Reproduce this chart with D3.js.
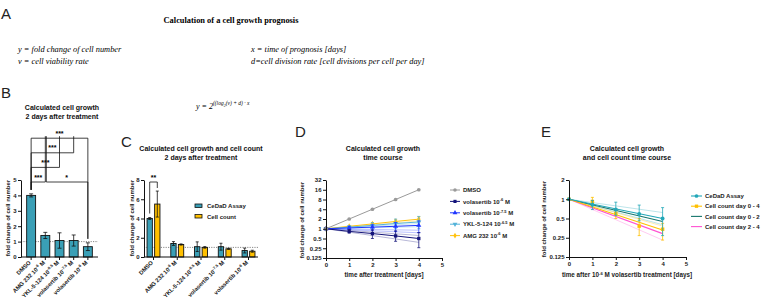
<!DOCTYPE html>
<html>
<head>
<meta charset="utf-8">
<script src="https://cdn.jsdelivr.net/npm/d3@7"></script>
<style>
  body { margin: 0; background: #fff; }
  text { font-family: "Liberation Sans", Arial, sans-serif; }
  .serif { font-family: "Liberation Serif", "DejaVu Serif", serif; }
</style>
</head>
<body>
<div id="chart"></div>
<script>
// ---------- data
const treatments = ['DMSO', 'AMG 232', 'YKL-5-124', 'volasertib', 'volasertib'];
const treatmentExp = ['', '-6', '-6.5', '-7.5', '-6'];

// B / C: 2 days after treatment
const growth2d = [4.0, 1.4, 1.07, 1.07, 0.67];
const growth2dErr = [0.1, 0.2, 0.5, 0.36, 0.25];
const count2d = [5.5, 1.3, 1.0, 0.85, 0.6];
const count2dErr = [1.35, 0.06, 0.08, 0.06, 0.1];
const sigB = [
  {a: 0, b: 4, level: 3, label: '***'},
  {a: 0, b: 3, level: 2, label: '***'},
  {a: 0, b: 2, level: 1, label: '***'},
  {a: 0, b: 1, level: 0, label: '***'},
  {a: 1, b: 4, level: 0, label: '*'}
];

// D: time course
const days = [0, 1, 2, 3, 4];
const dNames = ['DMSO', 'volasertib', 'volasertib', 'YKL-5-124', 'AMG 232'];
const dExp = ['', '-6', '-7.5', '-6.5', '-6'];
const dDMSO = [1, 2, 4, 8, 16];
const dVola6 = [1, 0.83, 0.71, 0.6, 0.5];
const dVola6Lo = [1, 0.73, 0.5, 0.41, 0.26];
const dVola6Hi = [1, 0.95, 0.92, 0.86, 0.76];
const dVola75 = [1, 1.06, 1.12, 1.19, 1.27];
const dVola75Lo = [1, 0.96, 0.9, 0.82, 0.76];
const dVola75Hi = [1, 1.17, 1.32, 1.55, 1.75];
const dYKL = [1, 1.12, 1.27, 1.45, 1.62];
const dYKLLo = [1, 1.0, 1.0, 1.0, 1.0];
const dYKLHi = [1, 1.25, 1.55, 2.0, 2.4];
const dAMG = [1, 1.19, 1.41, 1.68, 1.98];
const dAMGLo = [1, 1.12, 1.28, 1.45, 1.6];
const dAMGHi = [1, 1.26, 1.55, 1.9, 2.35];
// faint prognosis lines (value at day 4)
const dFaint = [0.38, 0.62, 0.75, 0.9, 1.15, 1.45, 1.75];
const dFaintKey = [1, 1, 2, 2, 3, 3, 4];

// E: volasertib 10^-6 M
const eNames = ['CeDaD Assay', 'Cell count day 0 - 4', 'Cell count day 0 - 2', 'Cell count day 2 - 4'];
const eCedad = [1, 0.82, 0.69, 0.59, 0.5];
const eCedadLo = [1, 0.69, 0.56, 0.46, 0.27];
const eCedadHi = [1, 0.96, 0.9, 0.81, 0.74];
const eCount = [1, 0.92, 0.6, 0.38, 0.34];
const eCountLo = [1, 0.8, 0.5, 0.27, 0.23];
const eCountHi = [1, 1.07, 0.7, 0.5, 0.42];
const eFitEnd = [0.5, 0.33, 0.45, 0.29]; // fitted value at day 4
const eFaint = [0.62, 0.4, 0.38, 0.23];
const eFaintKey = [0, 0, 1, 3];

// ---------- chart
const svg = d3.select('#chart').append('svg')
  .attr('width', 764).attr('height', 301)
  .style('background', '#fff');

const teal = '#3a9fb6', gold = '#ffc000';
const dColors = ['#9a9a9a', '#14147a', '#1f35ff', '#53b3d9', '#ffc20e'];
const eColors = ['#22a7b8', '#ffc000', '#16756c', '#ff52d2'];

function label(sel, name, exp, supSize) {
  sel.text(null);
  if (!exp) { sel.text(name); return; }
  sel.append('tspan').text(name + ' 10');
  sel.append('tspan').attr('font-size', supSize).attr('dy', -2.4).text(exp);
  sel.append('tspan').attr('dy', 2.4).text(' M');
}

function styleAxis(g) {
  g.selectAll('path, line').attr('stroke', '#111').attr('stroke-width', 1);
  g.selectAll('text').attr('font-size', 6).attr('font-weight', 'bold').attr('fill', '#222');
}

function panelLetter(x, y, t) {
  svg.append('text').attr('x', x).attr('y', y).attr('font-size', 15)
    .attr('fill', '#222').text(t);
}

function yTitle(x, y) {
  svg.append('text').attr('transform', `translate(${x},${y}) rotate(-90)`)
    .attr('text-anchor', 'middle').attr('font-size', 6).attr('font-weight', 'bold')
    .attr('fill', '#222').text('fold change of cell number');
}

function title(x, y, lines) {
  lines.forEach((l, i) => svg.append('text').attr('x', x).attr('y', y + i * 8.5)
    .attr('text-anchor', 'middle').attr('font-size', 7).attr('font-weight', 'bold')
    .attr('fill', '#111').text(l));
}

function errBar(g, x, y0, y1, w, color) {
  g.append('line').attr('x1', x).attr('x2', x).attr('y1', y0).attr('y2', y1)
    .attr('stroke', color).attr('stroke-width', 0.8);
  [y0, y1].forEach(y => g.append('line').attr('x1', x - w / 2).attr('x2', x + w / 2)
    .attr('y1', y).attr('y2', y).attr('stroke', color).attr('stroke-width', 0.8));
}

// ---------- Panel A
panelLetter(1, 19, 'A');
svg.append('text').attr('class', 'serif').attr('x', 231).attr('y', 23)
  .attr('text-anchor', 'middle').attr('font-size', 8.4).attr('font-weight', 'bold')
  .text('Calculation of a cell growth prognosis');
[['y = fold change of cell number', 18, 52], ['v = cell viability rate', 18, 64],
 ['x = time of prognosis [days]', 251, 52], ['d=cell division rate [cell divisions per cell per day]', 251, 64]]
  .forEach(([t, x, y]) => svg.append('text').attr('class', 'serif').attr('x', x).attr('y', y)
    .attr('font-size', 8.4).attr('font-style', 'italic').text(t));
const formula = svg.append('text').attr('class', 'serif').attr('x', 196).attr('y', 109)
  .attr('font-size', 8).attr('font-style', 'italic');
formula.append('tspan').text('y = 2');
formula.append('tspan').attr('font-size', 5.5).attr('dy', -4).text('((log');
formula.append('tspan').attr('font-size', 4).attr('dy', 1.5).text('2');
formula.append('tspan').attr('font-size', 5.5).attr('dy', -1.5).text('(v) + d) \u00b7 x');

// ---------- Panel B
panelLetter(1, 98, 'B');
title(62, 110, ['Calculated cell growth', '2 days after treatment']);
yTitle(10, 218);
const gB = svg.append('g');
const xB = d3.scaleBand().domain(d3.range(treatments.length)).range([21, 98])
  .paddingInner(0.37).paddingOuter(0.4);
const yB = d3.scaleLinear().domain([0, 5]).range([257, 180]);

gB.append('line').attr('x1', 21).attr('x2', 98).attr('y1', yB(1)).attr('y2', yB(1))
  .attr('stroke', '#888').attr('stroke-dasharray', '1.2,1.2');
gB.selectAll('rect').data(growth2d).join('rect')
  .attr('x', (d, i) => xB(i)).attr('y', d => yB(d))
  .attr('width', xB.bandwidth()).attr('height', d => yB(0) - yB(d))
  .attr('fill', teal).attr('stroke', '#111').attr('stroke-width', 0.9);
growth2d.forEach((d, i) => errBar(gB, xB(i) + xB.bandwidth() / 2,
  yB(d - growth2dErr[i]), yB(d + growth2dErr[i]), 4, '#111'));

gB.append('g').attr('transform', 'translate(21,0)')
  .call(d3.axisLeft(yB).ticks(5).tickSize(3).tickSizeOuter(0).tickPadding(1.5))
  .call(styleAxis);
const axB = gB.append('g').attr('transform', 'translate(0,257)')
  .call(d3.axisBottom(xB).tickSize(3).tickSizeOuter(0).tickFormat(''))
  .call(styleAxis);
axB.select('.domain').attr('d', 'M21,0H98');
axB.selectAll('.tick').append('text')
  .attr('transform', 'translate(0,6) rotate(-45)').attr('text-anchor', 'end')
  .attr('font-size', 5.8).attr('font-weight', 'bold').attr('fill', '#222')
  .each(function (i) { label(d3.select(this), treatments[i], treatmentExp[i], 4); });

// significance brackets
const cx = i => xB(i) + xB.bandwidth() / 2;
const levelY = k => 182 - 14.6 * k;
sigB.forEach(s => {
  const y = levelY(s.level);
  const dropEnd = i => {
    const over = sigB.find(o => o !== s && o.a < i && o.b > i);
    return over ? levelY(over.level) - 2 : yB(growth2d[i] + growth2dErr[i]) - 4;
  };
  gB.append('path')
    .attr('d', `M${cx(s.a) + (s.a ? 1 : 0)},${dropEnd(s.a)}V${y}H${cx(s.b)}V${dropEnd(s.b)}`)
    .attr('fill', 'none').attr('stroke', '#111').attr('stroke-width', 0.8);
  gB.append('text').attr('x', (cx(s.a) + cx(s.b)) / 2).attr('y', y - 2.5)
    .attr('text-anchor', 'middle').attr('font-size', 7).attr('font-weight', 'bold').text(s.label);
});

// ---------- Panel C
panelLetter(121, 147, 'C');
title(201, 151, ['Calculated cell growth and cell count', '2 days after treatment']);
yTitle(134, 218);
const gC = svg.append('g');
const xC = d3.scaleBand().domain(d3.range(treatments.length)).range([144, 258])
  .paddingInner(0.2).paddingOuter(0);
const xSub = d3.scaleBand().domain([0, 1]).range([0, xC.bandwidth()])
  .paddingInner(0.3).paddingOuter(0.4);
const yC = d3.scaleLinear().domain([0, 8]).range([257, 180]);
const cSeries = [{vals: growth2d, err: growth2dErr, color: teal},
                 {vals: count2d, err: count2dErr, color: gold}];

gC.append('line').attr('x1', 144).attr('x2', 258).attr('y1', yC(1)).attr('y2', yC(1))
  .attr('stroke', '#888').attr('stroke-dasharray', '1.2,1.2');
cSeries.forEach((s, k) => {
  gC.append('g').selectAll('rect').data(s.vals).join('rect')
    .attr('x', (d, i) => xC(i) + xSub(k)).attr('y', d => yC(d))
    .attr('width', xSub.bandwidth()).attr('height', d => yC(0) - yC(d))
    .attr('fill', s.color).attr('stroke', '#111').attr('stroke-width', 0.9);
  s.vals.forEach((d, i) => errBar(gC, xC(i) + xSub(k) + xSub.bandwidth() / 2,
    yC(d - s.err[i]), yC(d + s.err[i]), 3, '#111'));
});
gC.append('g').attr('transform', 'translate(144,0)')
  .call(d3.axisLeft(yC).tickValues([0, 2, 4, 6, 8]).tickSize(3).tickSizeOuter(0).tickPadding(1.5))
  .call(styleAxis);
const axC = gC.append('g').attr('transform', 'translate(0,257)')
  .call(d3.axisBottom(xC).tickSize(3).tickSizeOuter(0).tickFormat(''))
  .call(styleAxis);
axC.select('.domain').attr('d', 'M144,0H258');
axC.selectAll('.tick').append('text')
  .attr('transform', 'translate(0,6) rotate(-45)').attr('text-anchor', 'end')
  .attr('font-size', 5.8).attr('font-weight', 'bold').attr('fill', '#222')
  .each(function (i) { label(d3.select(this), treatments[i], treatmentExp[i], 4); });
// ** bracket DMSO: CeDaD vs cell count
{
  const x0 = xC(0) + xSub(0) + xSub.bandwidth() / 2, x1 = xC(0) + xSub(1) + xSub.bandwidth() / 2;
  gC.append('path').attr('d', `M${x0},${yC(4.1) - 4}V182H${x1}V188`)
    .attr('fill', 'none').attr('stroke', '#111').attr('stroke-width', 0.8);
  gC.append('text').attr('x', (x0 + x1) / 2).attr('y', 179.5).attr('text-anchor', 'middle')
    .attr('font-size', 7).attr('font-weight', 'bold').text('**');
}
// legend C
['CeDaD Assay', 'Cell count'].forEach((t, k) => {
  gC.append('rect').attr('x', 195).attr('y', 204 + k * 10.5).attr('width', 7).attr('height', 3.5)
    .attr('fill', cSeries[k].color).attr('stroke', '#111').attr('stroke-width', 0.8);
  gC.append('text').attr('x', 207).attr('y', 208 + k * 10.5).attr('font-size', 6)
    .attr('font-weight', 'bold').attr('fill', '#222').text(t);
});

// ---------- markers
function marker(g, type, x, y, color, s) {
  const sym = {circle: d3.symbolCircle, square: d3.symbolSquare, up: d3.symbolTriangle,
               down: d3.symbolTriangle, diamond: d3.symbolDiamond}[type];
  g.append('path').attr('d', d3.symbol(sym, s)())
    .attr('transform', `translate(${x},${y})${type === 'down' ? ' rotate(180)' : ''}`)
    .attr('fill', color);
}

// ---------- Panel D
panelLetter(295, 137, 'D');
title(383, 151, ['Calculated cell growth', 'time course']);
yTitle(304, 220);
const gD = svg.append('g');
const xD = d3.scaleLinear().domain([0, 5]).range([326, 442]);
const yD = d3.scaleLog().base(2).domain([0.125, 32]).range([258, 180]);
const dSeries = [
  {vals: dDMSO, color: dColors[0], shape: 'circle'},
  {vals: dVola6, lo: dVola6Lo, hi: dVola6Hi, color: dColors[1], shape: 'square'},
  {vals: dVola75, lo: dVola75Lo, hi: dVola75Hi, color: dColors[2], shape: 'up'},
  {vals: dYKL, lo: dYKLLo, hi: dYKLHi, color: dColors[3], shape: 'down'},
  {vals: dAMG, lo: dAMGLo, hi: dAMGHi, color: dColors[4], shape: 'diamond'}
];
const lineD = d3.line().x((d, i) => xD(days[i])).y(d => yD(d));
dFaint.forEach((v, k) => gD.append('line')
  .attr('x1', xD(0)).attr('y1', yD(1)).attr('x2', xD(4)).attr('y2', yD(v))
  .attr('stroke', dColors[dFaintKey[k]]).attr('stroke-opacity', 0.3).attr('stroke-width', 1));
dSeries.slice().reverse().forEach(s => {
  gD.append('path').attr('d', lineD(s.vals)).attr('fill', 'none')
    .attr('stroke', s.color).attr('stroke-width', 1);
  if (s.lo) s.vals.forEach((v, i) => { if (i) errBar(gD, xD(days[i]), yD(s.lo[i]), yD(s.hi[i]), 3, s.color); });
  s.vals.forEach((v, i) => marker(gD, s.shape, xD(days[i]), yD(v), s.color, 11));
});
gD.append('g').attr('transform', 'translate(326,0)')
  .call(d3.axisLeft(yD).tickValues([0.125, 0.25, 0.5, 1, 2, 4, 8, 16, 32])
    .tickFormat(d => d).tickSize(3).tickSizeOuter(0).tickPadding(1.5))
  .call(styleAxis);
gD.append('g').attr('transform', 'translate(0,258)')
  .call(d3.axisBottom(xD).ticks(5).tickSize(3).tickSizeOuter(0).tickPadding(1.5))
  .call(styleAxis);
svg.append('text').attr('x', 384).attr('y', 277).attr('text-anchor', 'middle')
  .attr('font-size', 6.3).attr('font-weight', 'bold').attr('fill', '#222')
  .text('time after treatment [days]');
dSeries.forEach((s, k) => {
  const y = 190 + k * 11.4;
  gD.append('line').attr('x1', 450).attr('x2', 460).attr('y1', y).attr('y2', y)
    .attr('stroke', s.color).attr('stroke-width', 1);
  marker(gD, s.shape, 455, y, s.color, 10);
  gD.append('text').attr('x', 463).attr('y', y + 2.2).attr('font-size', 6)
    .attr('font-weight', 'bold').attr('fill', '#222')
    .call(t => label(t, dNames[k], dExp[k], 4));
});

// ---------- Panel E
panelLetter(541, 137, 'E');
title(627, 151, ['Calculated cell growth', 'and cell count time course']);
yTitle(546, 219);
const gE = svg.append('g');
const xE = d3.scaleLinear().domain([0, 5]).range([569, 686]);
const yE = d3.scaleLog().base(2).domain([0.125, 2]).range([257, 180]);
eFaint.forEach((v, k) => gE.append('line')
  .attr('x1', xE(0)).attr('y1', yE(1)).attr('x2', xE(4)).attr('y2', yE(v))
  .attr('stroke', eColors[eFaintKey[k]]).attr('stroke-opacity', 0.3).attr('stroke-width', 1));
eFitEnd.slice().reverse().forEach((v, r) => {
  const k = eFitEnd.length - 1 - r;
  gE.append('line').attr('x1', xE(0)).attr('y1', yE(1)).attr('x2', xE(4)).attr('y2', yE(v))
    .attr('stroke', eColors[k]).attr('stroke-width', 1.1);
});
[{vals: eCount, lo: eCountLo, hi: eCountHi, color: eColors[1], shape: 'square'},
 {vals: eCedad, lo: eCedadLo, hi: eCedadHi, color: eColors[0], shape: 'circle'}].forEach(s => {
  s.vals.forEach((v, i) => { if (i) errBar(gE, xE(days[i]), yE(s.lo[i]), yE(s.hi[i]), 3, s.color); });
  s.vals.forEach((v, i) => marker(gE, s.shape, xE(days[i]), yE(v), s.color, 12));
});
gE.append('g').attr('transform', 'translate(569,0)')
  .call(d3.axisLeft(yE).tickValues([0.125, 0.25, 0.5, 1, 2])
    .tickFormat(d => d).tickSize(3).tickSizeOuter(0).tickPadding(1.5))
  .call(styleAxis);
gE.append('g').attr('transform', 'translate(0,257)')
  .call(d3.axisBottom(xE).ticks(5).tickSize(3).tickSizeOuter(0).tickPadding(1.5))
  .call(styleAxis);
const xtE = svg.append('text').attr('x', 627).attr('y', 277).attr('text-anchor', 'middle')
  .attr('font-size', 6.3).attr('font-weight', 'bold').attr('fill', '#222');
xtE.append('tspan').text('time after 10');
xtE.append('tspan').attr('font-size', 4.3).attr('dy', -2.4).text('-6');
xtE.append('tspan').attr('dy', 2.4).text(' M volasertib treatment [days]');
eNames.forEach((n, k) => {
  const y = 196 + k * 10.2;
  gE.append('line').attr('x1', 691).attr('x2', 702).attr('y1', y).attr('y2', y)
    .attr('stroke', eColors[k]).attr('stroke-width', 1.1);
  if (k < 2) marker(gE, k ? 'square' : 'circle', 696.5, y, eColors[k], 11);
  gE.append('text').attr('x', 705).attr('y', y + 2.2).attr('font-size', 6)
    .attr('font-weight', 'bold').attr('fill', '#222').text(n);
});
</script>
</body>
</html>
